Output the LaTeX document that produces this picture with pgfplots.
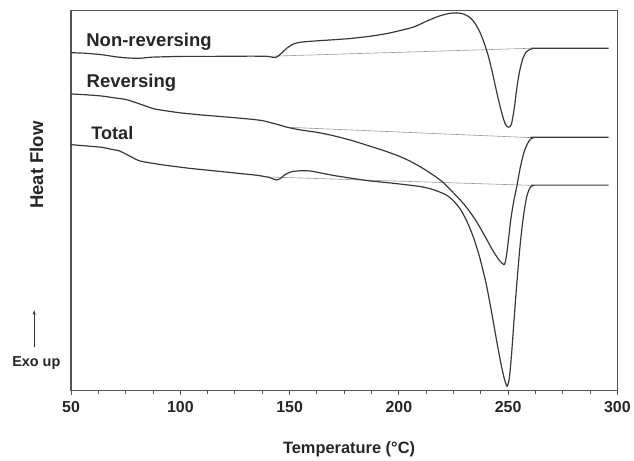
\documentclass[border=0pt]{standalone}
\usepackage{fontspec}
\setmainfont{Liberation Sans}
\usepackage{pgfplots}
\pgfplotsset{compat=1.18}
\usetikzlibrary{arrows.meta}
\definecolor{curve}{HTML}{383838}
\definecolor{base}{HTML}{9A9A9A}
\definecolor{axisc}{HTML}{555555}
\begin{document}
\begin{tikzpicture}
\begin{axis}[
 name=ax,
 scale only axis,
 width=549.5pt, height=382.3pt,
 xmin=50, xmax=300, ymin=0, ymax=382.3,
 axis line style={draw=axisc, line width=1.5pt},
 xtick={50,100,150,200,250,300},
 xticklabels={50,100,150,200,250,300},
 minor x tick num=3,
 ytick=\empty,
 tick align=outside,
 xtick pos=left,
 major tick length=4pt, minor tick length=3pt,
 tick style={draw=axisc, line width=1pt},
 xticklabel style={font=\fontsize{16}{16}\selectfont\bfseries, text=black!85, yshift=-3pt},
 clip=false,
]
% baselines
\addplot[no marks, draw=base, line width=0.6pt] coordinates {(142,336.5) (261.6,344.5)};
\addplot[no marks, draw=base, line width=0.6pt] coordinates {(149,265) (261,254.5)};
\addplot[no marks, draw=base, line width=0.6pt] coordinates {(140,215) (261.6,206.5)};
% Non-reversing
\addplot[no marks, smooth, tension=0.4, draw=curve, line width=1.2pt] coordinates {
(50,340) (56,339.5) (64,338) (70,336) (74,335) (78,334.5) (82,334.5) (87,335.5)
(95,336) (102,336.3) (115,336.3) (128,336.5) (136,336.5) (140,336.3) (142,335.5)
(143.5,335.2) (145,337) (147,341) (149,345) (151.5,348.5) (154,350.2) (157,351)
(163,352) (170,353) (178,354.3) (186,356.3) (194,359) (201,362.5) (207,366)
(213,372) (218,376.5) (222,379) (225.5,380) (229,379.3) (232.5,375.5) (235,369)
(237,361) (239,350) (241,336) (243,318) (245,298) (247,280) (248.7,268)
(250.2,265) (251.5,268) (252.8,284) (254,305) (255.3,322)
(256.7,334) (258.2,340.5) (260,343.3) (261.6,344.4) (264,344.5) (296,344.5)};
% Reversing
\addplot[no marks, smooth, tension=0.4, draw=curve, line width=1.2pt] coordinates {
(50,298.5) (58,297.5) (64.5,296.3) (70,294.5) (75,293) (80,289.5) (84.2,286.3)
(88,283.5) (92,282) (100,279.5) (110,277.3) (120,275.5) (132.7,273) (138,271.5)
(141.5,269.5) (145,267.5) (149.4,264.7) (155,262.3) (163,259.7) (170,256.5)
(178,252) (186,246.5) (193.4,241.3) (200,236) (205,231) (210,225) (215,218)
(220,210) (225,199) (230,187) (235,172) (240,153) (243,141) (246,131)
(248.3,127) (249.3,137) (250.3,155) (251.2,172) (252.5,190) (254,206)
(255.5,224) (257,238) (258.5,247) (260,252.5) (261.5,254.6) (263,255) (296,255)};
% Total
\addplot[no marks, smooth, tension=0.4, draw=curve, line width=1.2pt] coordinates {
(50,247.5) (58,246) (64.5,244.7) (68,243) (72,241.3) (76,237) (81.2,231.3)
(88,228.5) (94.8,226.3) (105,223.5) (117.6,220.7) (128,218.3) (135,216.7)
(140.3,214.7) (142.5,213) (144.1,212) (145.8,213.5) (148,217.5) (150.9,220.3)
(155.5,221.3) (160,220.8) (170.7,216.3) (185.8,211.3) (196,209) (204,207)
(210,205.3) (214.6,203) (218.5,200) (222,196.5) (225,191) (228,183) (231,171)
(234,155) (237,134) (240,107) (242.5,78) (245,47) (247,24) (248.5,10)
(249.5,4.5) (250.5,12) (251.5,35) (252.5,65) (253.5,95) (254.5,122)
(255.5,147) (256.5,167) (257.5,183) (258.5,195) (259.5,202) (260.5,205.5)
(261.8,206.6) (264,206.8) (296,206.8)};
% labels
\node[anchor=base west, inner sep=0, font=\fontsize{18.6}{18}\selectfont\bfseries, text=black!85] at (axis cs:56.9,346.3) {Non-reversing};
\node[anchor=base west, inner sep=0, font=\fontsize{18.6}{18}\selectfont\bfseries, text=black!85] at (axis cs:57.05,304.7) {Reversing};
\node[anchor=base west, inner sep=0, font=\fontsize{18.2}{18}\selectfont\bfseries, text=black!85] at (axis cs:59.2,253) {Total};
\node[font=\fontsize{16.5}{16}\selectfont\bfseries, text=black!85] at (axis cs:177.2,-59) {Temperature (°C)};
\node[rotate=90, font=\fontsize{18.6}{18}\selectfont\bfseries, text=black!85] at (axis cs:34.2,227) {Heat Flow};
\node[font=\fontsize{14.5}{14}\selectfont\bfseries, text=black!85] at (axis cs:34.1,28) {Exo up};
\draw[-{Stealth[length=5pt,width=3pt]}, line width=0.8pt, black!80] (axis cs:33.1,43.7) -- (axis cs:33.1,81.3);
\end{axis}
\path (ax.south west) ++(-71.5pt,-66pt);
\path (ax.north east) ++(13.5pt,10.7pt);
\end{tikzpicture}
\end{document}
